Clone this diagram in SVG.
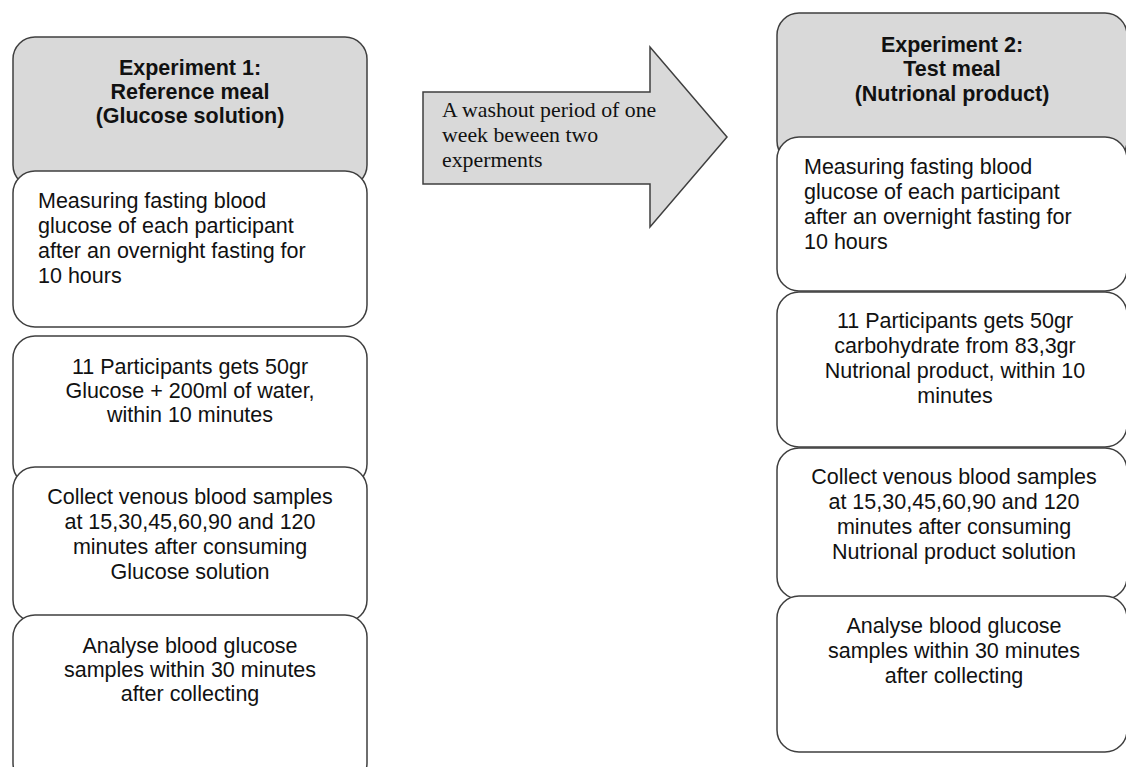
<svg xmlns="http://www.w3.org/2000/svg" width="1126" height="767" viewBox="0 0 1126 767">
<style>
.hdr{fill:#d9d9d9;stroke:#3f3f3f;stroke-width:1.5}
.box{fill:#ffffff;stroke:#3f3f3f;stroke-width:1.5}
.t{font-family:"Liberation Sans",Arial,sans-serif;font-size:21.5px;fill:#111}
.b{font-weight:bold;text-anchor:middle}
.c{text-anchor:middle}
.s{font-family:"Liberation Serif","Times New Roman",serif;font-size:21.8px;fill:#111}
</style>
<rect width="1126" height="767" fill="#ffffff"/>
<g id="exp1-header">
<rect class="hdr" x="13" y="37" width="354" height="150" rx="22"/>
<text class="t b" x="190" y="75">Experiment 1:</text>
<text class="t b" x="190" y="99">Reference meal</text>
<text class="t b" x="190" y="123">(Glucose solution)</text>
</g>
<g id="exp1-step1">
<rect class="box" x="13" y="171" width="354" height="156" rx="22"/>
<text class="t" x="38" y="208">Measuring fasting blood</text>
<text class="t" x="38" y="233">glucose of each participant</text>
<text class="t" x="38" y="258">after an overnight fasting for</text>
<text class="t" x="38" y="283">10 hours</text>
</g>
<g id="exp1-step2">
<rect class="box" x="13" y="336" width="354" height="150" rx="22"/>
<text class="t c" x="190" y="374">11 Participants gets 50gr</text>
<text class="t c" x="190" y="398">Glucose + 200ml of water,</text>
<text class="t c" x="190" y="422">within 10 minutes</text>
</g>
<g id="exp1-step3">
<rect class="box" x="13" y="467" width="354" height="155" rx="22"/>
<text class="t c" x="190" y="504">Collect venous blood samples</text>
<text class="t c" x="190" y="529">at 15,30,45,60,90 and 120</text>
<text class="t c" x="190" y="554">minutes after consuming</text>
<text class="t c" x="190" y="579">Glucose solution</text>
</g>
<g id="exp1-step4">
<rect class="box" x="13" y="615" width="354" height="170" rx="22"/>
<text class="t c" x="190" y="653">Analyse blood glucose</text>
<text class="t c" x="190" y="677">samples within 30 minutes</text>
<text class="t c" x="190" y="701">after collecting</text>
</g>
<g id="connectors">
<g id="washout-arrow">
<polygon points="423,92 650,92 650,47 727,137 650,227 650,184 423,184" fill="#d9d9d9" stroke="#3f3f3f" stroke-width="1.5"/>
<text class="s" x="442" y="117">A washout period of one</text>
<text class="s" x="442" y="142">week beween two</text>
<text class="s" x="442" y="167">experments</text>
</g>
</g>
<g id="exp2-header">
<rect class="hdr" x="777" y="13" width="350" height="150" rx="22"/>
<text class="t b" x="952" y="52">Experiment 2:</text>
<text class="t b" x="952" y="76">Test meal</text>
<text class="t b" x="952" y="101">(Nutrional product)</text>
</g>
<g id="exp2-step1">
<rect class="box" x="777" y="137" width="350" height="154" rx="22"/>
<text class="t" x="804" y="174">Measuring fasting blood</text>
<text class="t" x="804" y="199">glucose of each participant</text>
<text class="t" x="804" y="224">after an overnight fasting for</text>
<text class="t" x="804" y="249">10 hours</text>
</g>
<g id="exp2-step2">
<rect class="box" x="777" y="292" width="350" height="155" rx="22"/>
<text class="t c" x="955" y="328">11 Participants gets 50gr</text>
<text class="t c" x="955" y="353">carbohydrate from 83,3gr</text>
<text class="t c" x="955" y="378">Nutrional product, within 10</text>
<text class="t c" x="955" y="403">minutes</text>
</g>
<g id="exp2-step3">
<rect class="box" x="777" y="448" width="350" height="151" rx="22"/>
<text class="t c" x="954" y="484">Collect venous blood samples</text>
<text class="t c" x="954" y="509">at 15,30,45,60,90 and 120</text>
<text class="t c" x="954" y="534">minutes after consuming</text>
<text class="t c" x="954" y="559">Nutrional product solution</text>
</g>
<g id="exp2-step4">
<rect class="box" x="777" y="596" width="350" height="156" rx="22"/>
<text class="t c" x="954" y="633">Analyse blood glucose</text>
<text class="t c" x="954" y="658">samples within 30 minutes</text>
<text class="t c" x="954" y="683">after collecting</text>
</g>
</svg>
